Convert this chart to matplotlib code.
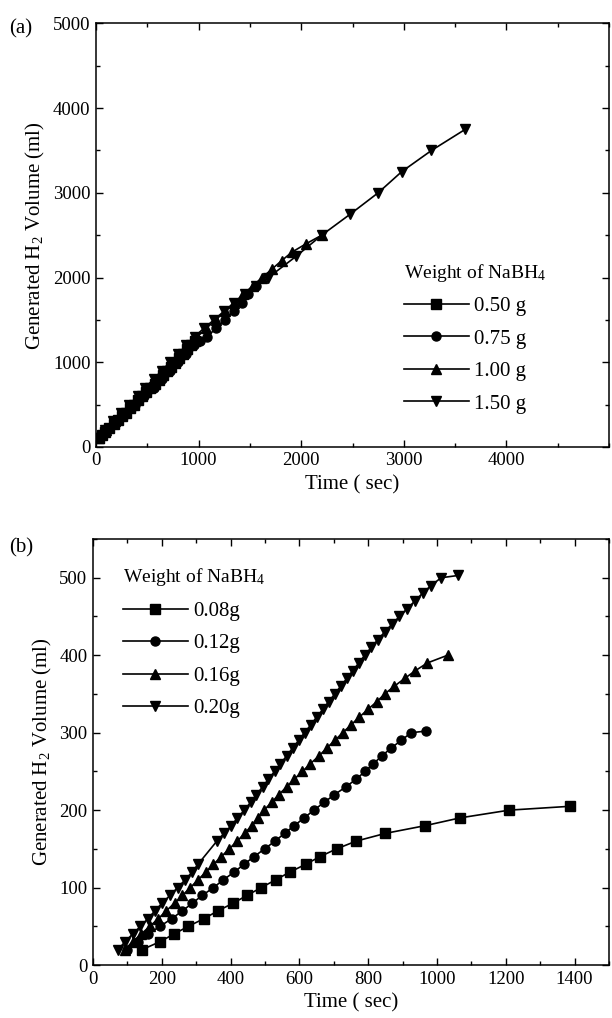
import matplotlib
matplotlib.use('Agg')
from matplotlib import pyplot as plt
from matplotlib.ticker import MultipleLocator

plt.rcParams['font.family'] = 'Liberation Serif'
plt.rcParams['mathtext.fontset'] = 'custom'
plt.rcParams['mathtext.rm'] = 'Liberation Serif'
plt.rcParams['mathtext.it'] = 'Liberation Serif:italic'

# (a) weight of NaBH4: 0.50 / 0.75 / 1.00 / 1.50 g
a_labels = ['0.50 g', '0.75 g', '1.00 g', '1.50 g']
a_t_050 = [25, 55, 90, 130, 170, 210, 250, 290, 330, 370, 410, 450, 490, 530, 570,
           610, 650, 690, 730, 770, 810, 850, 890, 930, 965]
a_v_050 = [100, 140, 180, 225, 270, 315, 360, 405, 455, 500, 550, 600, 645, 695, 745,
           795, 845, 895, 945, 995, 1045, 1095, 1150, 1200, 1250]
a_t_075 = [35, 110, 200, 290, 380, 470, 560, 640, 720, 800, 875, 950, 1010, 1080,
           1170, 1260, 1340, 1420, 1480, 1560]
a_v_075 = [100, 200, 300, 400, 500, 600, 700, 800, 900, 1000, 1100, 1200, 1250, 1300,
           1400, 1500, 1600, 1700, 1800, 1900]
a_t_100 = [30, 100, 180, 260, 340, 420, 500, 580, 660, 740, 820, 900, 985, 1075, 1165,
           1255, 1345, 1435, 1525, 1620, 1715, 1810, 1910, 2050, 2200]
a_v_100 = [100, 200, 300, 400, 500, 600, 700, 800, 900, 1000, 1100, 1200, 1300, 1400,
           1500, 1600, 1700, 1800, 1900, 2000, 2100, 2200, 2300, 2400, 2500]
a_t_150 = [20, 90, 165, 245, 325, 405, 480, 560, 640, 720, 800, 880, 960, 1050, 1150,
           1245, 1345, 1450, 1560, 1680, 1950, 2200, 2480, 2750, 2980, 3270, 3600]
a_v_150 = [100, 200, 300, 400, 500, 600, 700, 800, 900, 1000, 1100, 1200, 1300, 1400,
           1500, 1600, 1700, 1800, 1900, 2000, 2250, 2500, 2750, 3000, 3250, 3500, 3750]

# (b) weight of NaBH4: 0.08 / 0.12 / 0.16 / 0.20 g
b_labels = ['0.08g', '0.12g', '0.16g', '0.20g']
b_t_008 = [143, 194, 235, 277, 323, 363, 408, 448, 489, 531, 572, 618, 660, 708, 765,
           850, 966, 1067, 1210, 1388]
b_v_008 = [20, 30, 40, 50, 60, 70, 80, 90, 100, 110, 120, 130, 140, 150, 160,
           170, 180, 190, 200, 205]
b_t_012 = [100, 130, 160, 195, 229, 260, 289, 318, 350, 379, 410, 439, 468, 499, 529,
           557, 585, 614, 642, 672, 702, 735, 765, 791, 815, 840, 866, 896, 925, 967]
b_v_012 = [20, 30, 40, 50, 60, 70, 80, 90, 100, 110, 120, 130, 140, 150, 160,
           170, 180, 190, 200, 210, 220, 230, 240, 250, 260, 270, 280, 290, 300, 302]
b_t_016 = [92, 115, 140, 165, 190, 213, 237, 260, 283, 305, 328, 350, 373, 396, 419,
           441, 461, 479, 497, 519, 540, 563, 585, 609, 632, 657, 679, 703, 726, 750,
           774, 799, 825, 848, 876, 906, 937, 972, 1031]
b_v_016 = [20, 30, 40, 50, 60, 70, 80, 90, 100, 110, 120, 130, 140, 150, 160,
           170, 180, 190, 200, 210, 220, 230, 240, 250, 260, 270, 280, 290, 300, 310,
           320, 330, 340, 350, 360, 370, 380, 390, 400]
b_t_020 = [73, 93, 115, 138, 160, 180, 201, 224, 246, 268, 288, 305, 360, 381, 402,
           420, 440, 458, 475, 493, 510, 528, 545, 563, 580, 598, 615, 633, 650, 668,
           685, 703, 720, 738, 755, 773, 790, 809, 828, 848, 869, 891, 913, 936, 958,
           983, 1012, 1062]
b_v_020 = [20, 30, 40, 50, 60, 70, 80, 90, 100, 110, 120, 130, 160, 170, 180,
           190, 200, 210, 220, 230, 240, 250, 260, 270, 280, 290, 300, 310, 320, 330,
           340, 350, 360, 370, 380, 390, 400, 410, 420, 430, 440, 450, 460, 470, 480,
           490, 500, 503]

markers = ['s', 'o', '^', 'v']


def style_axes(ax, xmax, xmaj, ymax, ymaj):
    ax.set_xlim(0, xmax)
    ax.set_ylim(0, ymax)
    ax.xaxis.set_major_locator(MultipleLocator(xmaj))
    ax.xaxis.set_minor_locator(MultipleLocator(xmaj / 2))
    ax.yaxis.set_major_locator(MultipleLocator(ymaj))
    ax.yaxis.set_minor_locator(MultipleLocator(ymaj / 2))
    ax.tick_params(which='both', direction='in', top=True, right=True, width=1,
                   labelsize=13.5, pad=4)
    ax.tick_params(which='major', length=5)
    ax.tick_params(which='minor', length=3)
    for s in ax.spines.values():
        s.set_linewidth(1.1)
    ax.set_xlabel('Time ( sec)', fontsize=15)
    ax.set_ylabel('Generated H$_2$ Volume (ml)', fontsize=15)


def add_legend(ax, anchor):
    ax.legend(title='Weight of NaBH$_4$', loc='upper left', bbox_to_anchor=anchor,
              frameon=False, fontsize=15, title_fontsize=14, handlelength=3.1,
              labelspacing=0.62, handletextpad=0.25, borderpad=0, alignment='left')


fig = plt.figure(figsize=(6.12, 10.18), dpi=100)

ax_a = fig.add_axes([0.157, 0.561, 0.838, 0.416])
a_series = [(a_t_050, a_v_050), (a_t_075, a_v_075), (a_t_100, a_v_100), (a_t_150, a_v_150)]
for (t, v), m, lab in zip(a_series, markers, a_labels):
    ax_a.plot(t, v, color='black', marker=m, markersize=6.5, linewidth=1.2, label=lab)
style_axes(ax_a, 5000, 1000, 5000, 1000)
ax_a.set_xticks([0, 1000, 2000, 3000, 4000])
add_legend(ax_a, (0.58, 0.462))

ax_b = fig.add_axes([0.152, 0.052, 0.843, 0.4185])
b_series = [(b_t_008, b_v_008), (b_t_012, b_v_012), (b_t_016, b_v_016), (b_t_020, b_v_020)]
for (t, v), m, lab in zip(b_series, markers, b_labels):
    ax_b.plot(t, v, color='black', marker=m, markersize=6.5, linewidth=1.2, label=lab)
style_axes(ax_b, 1500, 200, 550, 100)
ax_b.xaxis.set_minor_locator(MultipleLocator(100))
ax_b.yaxis.set_minor_locator(MultipleLocator(50))
ax_b.set_xticks([0, 200, 400, 600, 800, 1000, 1200, 1400])
add_legend(ax_b, (0.038, 0.96))

fig.text(0.015, 0.972, '(a)', fontsize=15, va='center')
fig.text(0.015, 0.462, '(b)', fontsize=15, va='center')

fig.savefig('out.png', dpi=100)
